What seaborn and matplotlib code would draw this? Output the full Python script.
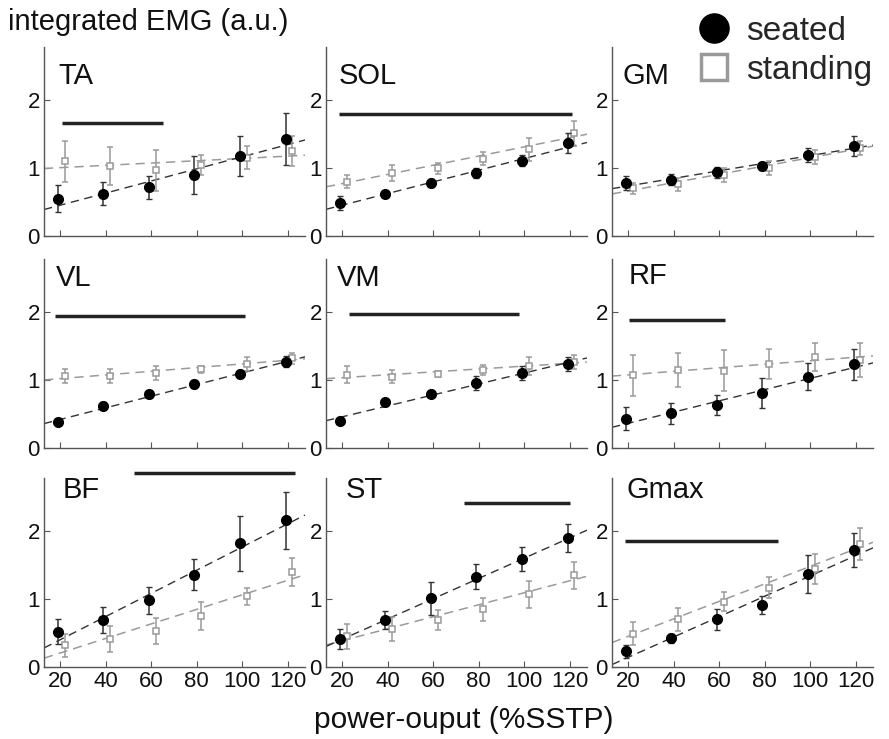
import matplotlib
matplotlib.use('Agg')
import matplotlib.pyplot as plt
from matplotlib.lines import Line2D
import numpy as np
import seaborn as sns

sns.set_style('ticks')
plt.rcParams['font.family'] = ['Liberation Sans', 'DejaVu Sans']

power = [20, 40, 60, 80, 100, 120]
muscles = ['TA', 'SOL', 'GM', 'VL', 'VM', 'RF', 'BF', 'ST', 'Gmax']

# mean integrated EMG, seated
seated = {
    'TA':   [0.55, 0.62, 0.72, 0.90, 1.18, 1.43],
    'SOL':  [0.49, 0.62, 0.78, 0.93, 1.11, 1.37],
    'GM':   [0.78, 0.83, 0.94, 1.03, 1.19, 1.33],
    'VL':   [0.38, 0.62, 0.79, 0.94, 1.09, 1.27],
    'VM':   [0.40, 0.67, 0.80, 0.96, 1.10, 1.24],
    'RF':   [0.43, 0.51, 0.63, 0.81, 1.05, 1.23],
    'BF':   [0.52, 0.69, 0.98, 1.36, 1.82, 2.16],
    'ST':   [0.41, 0.69, 1.01, 1.33, 1.59, 1.90],
    'Gmax': [0.23, 0.42, 0.70, 0.91, 1.37, 1.72],
}
seated_err = {
    'TA':   [0.20, 0.17, 0.17, 0.28, 0.30, 0.38],
    'SOL':  [0.10, 0.05, 0.06, 0.07, 0.08, 0.15],
    'GM':   [0.10, 0.08, 0.08, 0.06, 0.10, 0.15],
    'VL':   [0.04, 0.05, 0.05, 0.06, 0.06, 0.08],
    'VM':   [0.05, 0.05, 0.05, 0.10, 0.10, 0.10],
    'RF':   [0.17, 0.15, 0.15, 0.22, 0.20, 0.23],
    'BF':   [0.18, 0.19, 0.20, 0.23, 0.41, 0.42],
    'ST':   [0.15, 0.13, 0.24, 0.18, 0.18, 0.21],
    'Gmax': [0.10, 0.06, 0.15, 0.13, 0.28, 0.25],
}
# mean integrated EMG, standing
standing = {
    'TA':   [1.10, 1.03, 0.97, 1.05, 1.15, 1.25],
    'SOL':  [0.80, 0.93, 1.00, 1.14, 1.28, 1.51],
    'GM':   [0.70, 0.76, 0.90, 1.00, 1.16, 1.30],
    'VL':   [1.06, 1.06, 1.10, 1.16, 1.24, 1.32],
    'VM':   [1.08, 1.05, 1.09, 1.15, 1.21, 1.27],
    'RF':   [1.07, 1.15, 1.14, 1.24, 1.34, 1.30],
    'BF':   [0.32, 0.41, 0.53, 0.75, 1.04, 1.40],
    'ST':   [0.45, 0.56, 0.69, 0.85, 1.07, 1.35],
    'Gmax': [0.49, 0.70, 0.96, 1.17, 1.44, 1.81],
}
standing_err = {
    'TA':   [0.30, 0.28, 0.30, 0.15, 0.17, 0.22],
    'SOL':  [0.10, 0.12, 0.08, 0.10, 0.17, 0.18],
    'GM':   [0.08, 0.10, 0.10, 0.10, 0.10, 0.10],
    'VL':   [0.10, 0.10, 0.10, 0.05, 0.10, 0.08],
    'VM':   [0.12, 0.10, 0.05, 0.07, 0.13, 0.10],
    'RF':   [0.30, 0.25, 0.30, 0.22, 0.20, 0.25],
    'BF':   [0.17, 0.19, 0.19, 0.20, 0.13, 0.20],
    'ST':   [0.18, 0.18, 0.15, 0.17, 0.20, 0.20],
    'Gmax': [0.17, 0.17, 0.14, 0.15, 0.22, 0.23],
}
# significant difference range: (x start, x end, y level)
signif = {
    'TA':   (21, 65, 1.66),
    'SOL':  (18.5, 121, 1.79),
    'VL':   (18, 101, 1.95),
    'VM':   (23, 97.5, 1.97),
    'RF':   (20.5, 62.5, 1.88),
    'BF':   (52.5, 123, 2.86),
    'ST':   (73.5, 120, 2.42),
    'Gmax': (18.5, 86, 1.85),
}

label_pos = [(0.055, 0.85), (0.05, 0.85), (0.04, 0.85),
             (0.045, 0.90), (0.04, 0.90), (0.065, 0.91),
             (0.07, 0.94), (0.075, 0.94), (0.055, 0.94)]

fig = plt.figure(figsize=(8.89, 7.39), dpi=100)
lefts = [0.0495, 0.3667, 0.6884]
bottoms = [0.6806, 0.3938, 0.0974]
w, h = 0.2936, 0.2555

grey = '#9a9a9a'

for i, m in enumerate(muscles):
    r, c = divmod(i, 3)
    ax = fig.add_axes([lefts[c], bottoms[r], w, h])
    xlim = (13, 127.5)
    ax.set_xlim(*xlim)
    ax.set_ylim(0, 2.78)

    x = np.array(power, dtype=float)
    # regression lines (dashed) over full axis width
    sns.regplot(x=x, y=np.array(standing[m]), ax=ax, scatter=False, ci=None,
                truncate=False, line_kws=dict(color=grey, lw=1.1, dashes=(6, 4)))
    sns.regplot(x=x, y=np.array(seated[m]), ax=ax, scatter=False, ci=None,
                truncate=False, line_kws=dict(color='#333333', lw=1.0, dashes=(6, 4)))
    ax.set_xlim(*xlim)

    ax.errorbar(x + 2, standing[m], yerr=standing_err[m], fmt='s', ms=5,
                mfc='white', mec=grey, mew=1.1, ecolor=grey, elinewidth=1.1,
                capsize=2, zorder=3)
    ax.errorbar(x - 1, seated[m], yerr=seated_err[m], fmt='o', ms=7,
                mfc='black', mec='black', ecolor='#333333', elinewidth=1.1,
                capsize=2, zorder=4)

    if m in signif:
        x0, x1, yb = signif[m]
        ax.plot([x0, x1], [yb, yb], color='#222222', lw=2.5, clip_on=False,
                solid_capstyle='butt')

    ax.text(label_pos[i][0], label_pos[i][1], m, transform=ax.transAxes,
            fontsize=21, va='center', ha='left', color='#111111')

    ax.set_yticks([0, 1, 2])
    ax.set_xticks(power)
    if r < 2:
        ax.set_xticklabels([])
    ax.set_xlabel('')
    ax.set_ylabel('')
    ax.tick_params(direction='in', length=4, width=0.8, labelsize=16, pad=3,
                   colors='#555555', labelcolor='#111111')
    sns.despine(ax=ax)
    for s in ['left', 'bottom']:
        ax.spines[s].set_color('#555555')
        ax.spines[s].set_linewidth(1.0)

fig.text(8 / 889, 1 - 22 / 739, 'integrated EMG (a.u.)', fontsize=21,
         va='center', ha='left', color='#111111')
fig.text(0.522, 0.026, 'power-ouput (%SSTP)', fontsize=21.5, va='center',
         ha='center', color='#111111')

handles = [Line2D([], [], ls='none', marker='o', ms=21, mfc='black', mec='black'),
           Line2D([], [], ls='none', marker='s', ms=19, mfc='white', mec=grey, mew=2.5)]
fig.legend(handles, ['seated', 'standing'], loc='center left',
           bbox_to_anchor=(681 / 889, 1 - 51 / 739), frameon=False, fontsize=24,
           handletextpad=0.45, labelspacing=0.25, borderpad=0, handlelength=1.0)

fig.savefig('out.png', dpi=100)
